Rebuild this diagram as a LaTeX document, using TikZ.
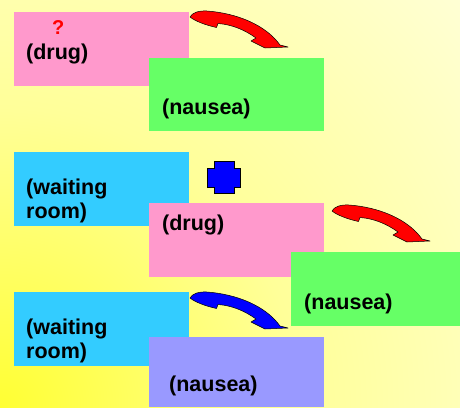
\documentclass[tikz,border=0pt]{standalone}
\usepackage{fontspec}
\setmainfont{Liberation Sans}
\definecolor{bgY}{HTML}{FFFF33}
\definecolor{bgM}{HTML}{FFFF99}
\definecolor{bgL}{HTML}{FFFFE4}
\definecolor{bgW}{HTML}{FFFFF6}
\definecolor{pinkbox}{HTML}{FF99CC}
\definecolor{greenbox}{HTML}{66FF66}
\definecolor{bluebox}{HTML}{33CCFF}
\definecolor{lavbox}{HTML}{9999FF}
\definecolor{plusblue}{HTML}{0000FF}
\definecolor{arrred}{HTML}{FF0000}
\definecolor{arrblue}{HTML}{0000FF}
\pgfdeclareradialshading{bgshade}{\pgfpoint{0bp}{0bp}}{color(0bp)=(bgY); color(10.7bp)=(bgM); color(25bp)=(bgL); color(36bp)=(bgW); color(50bp)=(bgW)}
\tikzset{
  box/.style={draw=none, anchor=north west, inner sep=0pt, minimum width=175pt, minimum height=74pt},
  lbl/.style={anchor=base west, inner sep=0pt, font=\fontsize{21.5}{24}\selectfont\bfseries, text=black},
  curvarr/.pic={
    \filldraw[pic actions, line width=0.5pt, line join=round]
      (0,1) .. controls (2,-3) and (8,-5.5) .. (17,-5)
      .. controls (45,-3) and (75,8) .. (90,29)
      -- (98,31) -- (75,32) -- (61,25) -- (66,22)
      .. controls (55,14) and (42,8.5) .. (28,7.5)
      -- (26.5,11.5) .. controls (15,9) and (5,5) .. cycle;
  }
}
\begin{document}
\begin{tikzpicture}[x=1pt,y=-1pt]
\useasboundingbox (0,0) rectangle (460,407);
\begin{scope}
  \clip (0,0) rectangle (460,407);
  \shade[shading=bgshade] (0,407) circle (700pt);
\end{scope}
% group 1
\node[box, fill=pinkbox] (drugA) at (14,12) {};
\node[box, fill=greenbox, minimum height=73pt] (nauseaA) at (149,58) {};
\node[anchor=base west, inner sep=0pt, font=\fontsize{20}{24}\selectfont\bfseries, text=arrred] (qmark) at (52,34) {?};
\node[lbl] (drugAt) at (26,59) {(drug)};
\node[lbl] (nauseaAt) at (162,114) {(nausea)};
\pic[fill=arrred, draw=black] (arrA) at (190,16) {curvarr};
% group 2
\node[box, fill=bluebox] (roomB) at (14,152) {};
\node[box, fill=pinkbox] (drugB) at (149,203) {};
\node[box, fill=greenbox, minimum width=169pt] (nauseaB) at (291,252) {};
\node[lbl] (roomBt1) at (26,194) {(waiting};
\node[lbl] (roomBt2) at (26,218) {room)};
\node[lbl] (drugBt) at (162,230) {(drug)};
\node[lbl] (nauseaBt) at (304,309) {(nausea)};
\filldraw[fill=plusblue, draw=black, line width=0.5pt]
  (214,161) -- (234,161) -- (234,168) -- (240,168) -- (240,187) -- (234,187)
  -- (234,193) -- (214,193) -- (214,187) -- (207,187) -- (207,168) -- (214,168) -- cycle;
\pic[fill=arrred, draw=black] (arrB) at (332,210) {curvarr};
% group 3
\node[box, fill=bluebox] (roomC) at (14,292) {};
\node[box, fill=lavbox, minimum height=70pt] (nauseaC) at (149,337) {};
\node[lbl] (roomCt1) at (26,334) {(waiting};
\node[lbl] (roomCt2) at (26,358) {room)};
\node[lbl] (nauseaCt) at (169,391) {(nausea)};
\pic[fill=arrblue, draw=black] (arrC) at (190,297) {curvarr};
\end{tikzpicture}
\end{document}
